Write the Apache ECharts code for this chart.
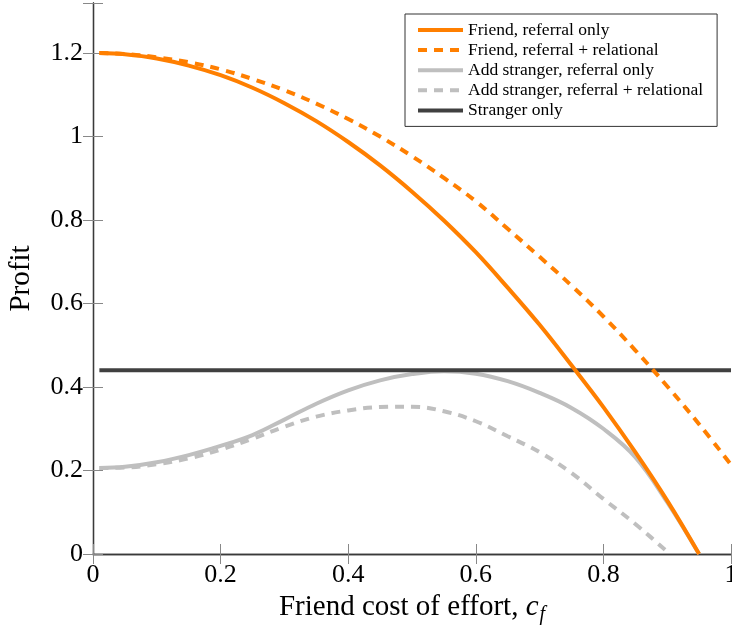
<!DOCTYPE html>
<html>
<head>
<meta charset="utf-8">
<script src="https://cdn.jsdelivr.net/npm/echarts@6/dist/echarts.min.js"></script>
<style>
html,body{margin:0;padding:0;background:#fff;}
#chart{width:732px;height:626px;}
</style>
</head>
<body>
<div id="chart"></div>
<script>
// x values (friend cost of effort)
const cost = [0.01,0.05,0.10,0.15,0.20,0.25,0.30,0.35,0.40,0.45,0.50,0.55,0.60,0.65,0.70,0.75,0.80,0.85,0.90,0.95,1.00];
const costDashGray = [0.01,0.05,0.10,0.15,0.20,0.25,0.30,0.35,0.40,0.45,0.50,0.55,0.60,0.65,0.70,0.75,0.80,0.85,0.90,0.905];
const costStranger = [0.01,1.00];

// series values (profit)
const friendReferral = [1.200,1.197,1.187,1.170,1.147,1.117,1.080,1.037,0.987,0.931,0.868,0.799,0.723,0.638,0.549,0.452,0.352,0.244,0.128,0.0,null];
const friendRelational = [1.200,1.198,1.190,1.178,1.161,1.138,1.111,1.079,1.042,1.000,0.953,0.901,0.845,0.779,0.712,0.643,0.569,0.488,0.402,0.311,0.214];
const addStrangerReferral = [0.206,0.209,0.220,0.237,0.259,0.285,0.322,0.360,0.392,0.416,0.431,0.438,0.432,0.414,0.386,0.350,0.300,0.232,0.124,0.0,null];
const addStrangerRelational = [0.206,0.207,0.215,0.229,0.250,0.276,0.305,0.329,0.344,0.352,0.353,0.342,0.318,0.282,0.244,0.194,0.132,0.072,0.006,0.0];
const strangerOnly = [0.44,0.44];

// tick labels
const xTicks = [0,0.2,0.4,0.6,0.8,1];
const yTicks = [0,0.2,0.4,0.6,0.8,1,1.2];

const seriesNames = ['Friend, referral only','Friend, referral + relational','Add stranger, referral only','Add stranger, referral + relational','Stranger only'];

function pairs(xs, ys){ return xs.map((x,i)=>[x, ys[i]]).filter(p=>p[1]!==null && p[1]!==undefined); }

const ORANGE = '#FF7F00', LGRAY = '#BFBFBF', DGRAY = '#404040';
const FONT = 'Liberation Serif';

function fmt(v){ return String(+v.toFixed(1)); }

const chart = echarts.init(document.getElementById('chart'), null, {renderer:'canvas'});
const axisLine = {show:true, lineStyle:{color:'#3a3a3a', width:1.3}};
const tick = {show:true, inside:true, length:10, lineStyle:{color:'#888', width:1}};

chart.setOption({
  animation:false,
  backgroundColor:'#fff',
  grid:{left:93, right:1, top:3, bottom:72, containLabel:false, outerBoundsMode:'none'},
  xAxis:[{
    type:'value', min:0, max:1, interval:0.2,
    axisLine:axisLine, axisTick:tick, splitLine:{show:false},
    axisLabel:{color:'#000', fontFamily:FONT, fontSize:26, margin:8, hideOverlap:false,
      formatter:(v)=> xTicks.some(t=>Math.abs(t-v)<1e-9) ? fmt(v) : ''},
    name:'{n|Friend cost of effort, }{i|c}{s|f}',
    nameLocation:'middle', nameGap:32,
    nameTextStyle:{rich:{
      n:{fontFamily:FONT, fontSize:29, color:'#000'},
      i:{fontFamily:FONT, fontSize:29, fontStyle:'italic', color:'#000'},
      s:{fontFamily:FONT, fontSize:20, fontStyle:'italic', color:'#000', padding:[14,0,0,1]}
    }}
  },{
    type:'value', min:0, max:1, interval:0.2, position:'top',
    axisLine:axisLine, axisTick:tick, axisLabel:{show:false}, splitLine:{show:false}
  }],
  yAxis:[{
    type:'value', min:0, max:1.32, interval:0.2,
    axisLine:axisLine, axisTick:tick, splitLine:{show:false},
    axisLabel:{color:'#000', fontFamily:FONT, fontSize:26, margin:10, hideOverlap:false,
      formatter:(v)=> yTicks.some(t=>Math.abs(t-v)<1e-9) ? fmt(v) : ''},
    name:'Profit', nameLocation:'middle', nameGap:57, nameRotate:90,
    nameTextStyle:{fontFamily:FONT, fontSize:29, color:'#000'}
  },{
    type:'value', min:0, max:1.32, interval:0.2, position:'right',
    axisLine:axisLine, axisTick:tick, axisLabel:{show:false}, splitLine:{show:false}
  }],
  legend:{
    orient:'vertical', left:405, top:14,
    padding:[7,14,7,11], itemWidth:45, itemHeight:14, itemGap:2.1,
    backgroundColor:'#fff', borderColor:'#333', borderWidth:1, borderRadius:0,
    itemStyle:{opacity:0},
    lineStyle:{width:4},
    textStyle:{fontFamily:FONT, fontSize:17.5, color:'#000'},
    data:seriesNames
  },
  series:[
    {name:seriesNames[0], type:'line', symbol:'none', smooth:0.4, z:5,
      lineStyle:{color:ORANGE, width:4}, itemStyle:{color:ORANGE},
      data:pairs(cost, friendReferral)},
    {name:seriesNames[1], type:'line', symbol:'none', smooth:0.4, z:5,
      lineStyle:{color:ORANGE, width:4, type:[9,7]}, itemStyle:{color:ORANGE},
      data:pairs(cost, friendRelational)},
    {name:seriesNames[2], type:'line', symbol:'none', smooth:0.4, z:3,
      lineStyle:{color:LGRAY, width:4}, itemStyle:{color:LGRAY},
      data:pairs(cost, addStrangerReferral)},
    {name:seriesNames[3], type:'line', symbol:'none', smooth:0.4, z:3,
      lineStyle:{color:LGRAY, width:4, type:[9,7]}, itemStyle:{color:LGRAY},
      data:pairs(costDashGray, addStrangerRelational)},
    {name:seriesNames[4], type:'line', symbol:'none', z:4,
      lineStyle:{color:DGRAY, width:4}, itemStyle:{color:DGRAY},
      data:pairs(costStranger, strangerOnly)}
  ]
});
</script>
</body>
</html>
